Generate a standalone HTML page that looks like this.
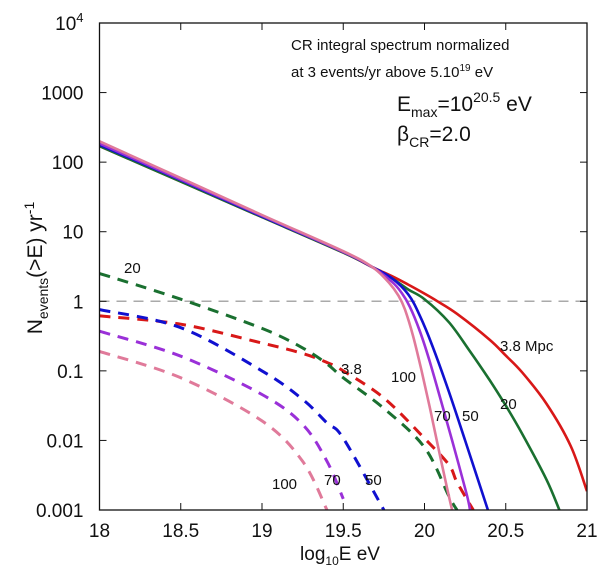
<!DOCTYPE html>
<html><head><meta charset="utf-8"><style>
body{margin:0;background:#fff;}
svg{display:block;font-family:"Liberation Sans",sans-serif;}
</style></head><body>
<svg id="chart" width="600" height="577">
<g id="grid"></g>
<g id="series"></g>
<g id="axes"></g>
<g id="labels" font-size="15" fill="#111"></g>
<g fill="#111">
<text x="291" y="50" font-size="15">CR integral spectrum normalized</text>
<text x="291" y="77" font-size="15">at 3 events/yr above 5.10<tspan font-size="10" dy="-6">19</tspan><tspan dy="6"> eV</tspan></text>
<text x="397" y="111" font-size="21">E<tspan font-size="14" dy="6">max</tspan><tspan dy="-6">=10</tspan><tspan font-size="14" dy="-9">20.5</tspan><tspan dy="9"> eV</tspan></text>
<text x="397" y="141" font-size="21">β<tspan font-size="14" dy="6">CR</tspan><tspan dy="-6">=2.0</tspan></text>
</g>
<text x="340" y="560" font-size="19" text-anchor="middle" fill="#111">log<tspan font-size="12" dy="5">10</tspan><tspan dy="-5">E eV</tspan></text>
<text transform="translate(42,268) rotate(-90)" font-size="21" text-anchor="middle" fill="#111">N<tspan font-size="14" dy="6">events</tspan><tspan dy="-6">(&gt;E) yr</tspan><tspan font-size="14" dy="-8">-1</tspan></text>
</svg>
<script>
const xTicks=[18,18.5,19,19.5,20,20.5,21];
const yTicks=[4,3,2,1,0,-1,-2,-3];
const yTickLabels=["10^4","1000","100","10","1","0.1","0.01","0.001"];
const colors=["#d81818","#1a7030","#1010d0","#9a30d8","#e07a9a"];
const names=["3.8","20","50","70","100"];
// solid curves: log10 E and log10 N
const solidRedX=[18,18.5,19,19.5,19.68,19.8,19.9,20,20.08,20.2,20.4,20.5,20.6,20.75,20.9,21];
const solidRedY=[2.23,1.72,1.21,0.70,0.49,0.36,0.24,0.11,0,-0.18,-0.55,-0.78,-1.02,-1.47,-2.08,-2.73];
const solidGreenX=[18,18.5,19,19.5,19.68,19.8,19.9,20,20.15,20.28,20.4,20.5,20.6,20.75,20.83];
const solidGreenY=[2.23,1.72,1.21,0.70,0.49,0.33,0.17,0.03,-0.3,-0.72,-1.13,-1.5,-1.9,-2.56,-3];
const solidBlueX=[18,18.5,19,19.5,19.68,19.8,19.9,19.97,20.05,20.15,20.25,20.39];
const solidBlueY=[2.25,1.74,1.22,0.71,0.49,0.33,0.1,-0.2,-0.65,-1.3,-2.0,-3];
const solidPurpleX=[18,18.5,19,19.5,19.68,19.8,19.86,19.91,19.97,20.03,20.1,20.17,20.26,20.28];
const solidPurpleY=[2.27,1.75,1.23,0.71,0.49,0.28,0.12,-0.08,-0.42,-0.85,-1.42,-2.0,-2.78,-3];
const solidPinkX=[18,18.5,19,19.5,19.68,19.78,19.84,19.88,19.93,19.98,20.03,20.08,20.14,20.17];
const solidPinkY=[2.3,1.77,1.24,0.72,0.49,0.27,0.08,-0.12,-0.5,-0.98,-1.5,-2.05,-2.7,-3];
// dashed curves
const dashX=[18,18.5,19,19.25,19.4,19.5,19.75,20,20.15,20.2,20.3];
const dashRed=[-0.21,-0.33,-0.6,-0.75,-0.88,-1.0,-1.39,-1.97,-2.35,-2.6,-3];
const dashGreen=[0.4,0.03,-0.39,-0.67,-0.9,-1.1,-1.54,-2.1,-2.8,-3,null];
const dashBlue=[-0.12,-0.38,-1.0,-1.41,-1.75,-1.97,-3,null,null,null,null];
const dashPurple=[-0.43,-0.79,-1.34,-1.77,-2.3,-2.84,null,null,null,null,null];
const dashPink=[-0.72,-1.1,-1.72,-2.3,-3,null,null,null,null,null,null];

const X0=99.5,X1=587,Y0=23,Y1=510;
const xs=v=>X0+(v-18)/3*(X1-X0);
const ys=v=>Y0+(4-v)/7*(Y1-Y0);
const NS="http://www.w3.org/2000/svg";
function mk(t,a,p){const e=document.createElementNS(NS,t);for(const k in a)e.setAttribute(k,a[k]);p.appendChild(e);return e;}
const G=id=>document.getElementById(id);
function path(xa,ya,dashed,color,name){
  const pts=[];
  for(let i=0;i<xa.length;i++){if(ya[i]==null)continue;pts.push([xs(xa[i]),ys(ya[i])]);}
  let d="M"+pts[0][0].toFixed(1)+","+pts[0][1].toFixed(1);
  for(let i=0;i<pts.length-1;i++){
    const p0=pts[Math.max(i-1,0)],p1=pts[i],p2=pts[i+1],p3=pts[Math.min(i+2,pts.length-1)];
    const c1=[p1[0]+(p2[0]-p0[0])/6,p1[1]+(p2[1]-p0[1])/6];
    const c2=[p2[0]-(p3[0]-p1[0])/6,p2[1]-(p3[1]-p1[1])/6];
    d+="C"+c1[0].toFixed(1)+","+c1[1].toFixed(1)+" "+c2[0].toFixed(1)+","+c2[1].toFixed(1)+" "+p2[0].toFixed(1)+","+p2[1].toFixed(1);
  }
  const p=mk("path",{d:d,fill:"none",stroke:color,"stroke-width":dashed?3:2.6,"stroke-dasharray":dashed?"11,8":"none","clip-path":"url(#clip)"},G("series"));
  
  
}
const defs=mk("defs",{},G("chart"));const cp=mk("clipPath",{id:"clip"},defs);mk("rect",{x:X0,y:Y0,width:X1-X0,height:Y1-Y0},cp);
const ref=mk("line",{x1:X0,x2:X1,y1:ys(0),y2:ys(0),stroke:"#aaa","stroke-width":1.5,"stroke-dasharray":"10,7"},G("grid"));


const dashes=[dashRed,dashGreen,dashBlue,dashPurple,dashPink];
dashes.forEach((a,i)=>path(dashX,a,true,colors[i],"dashed-"+names[i]+"-mpc"));
const solidXs=[solidRedX,solidGreenX,solidBlueX,solidPurpleX,solidPinkX];
const solidYs=[solidRedY,solidGreenY,solidBlueY,solidPurpleY,solidPinkY];
solidYs.forEach((a,i)=>path(solidXs[i],a,false,colors[i],"solid-"+names[i]+"-mpc"));
const fr=mk("rect",{x:X0,y:Y0,width:X1-X0,height:Y1-Y0,fill:"none",stroke:"#111","stroke-width":1.3},G("axes"));


xTicks.forEach(t=>{
  const x=xs(t);
  mk("line",{x1:x,x2:x,y1:Y1,y2:Y1-7,stroke:"#111"},G("axes"));
  mk("line",{x1:x,x2:x,y1:Y0,y2:Y0+7,stroke:"#111"},G("axes"));
  const tx=mk("text",{x:x,y:Y1+27,"font-size":19,"text-anchor":"middle",fill:"#111"},G("axes"));
  tx.textContent=String(t);
  
  
});
yTicks.forEach((t,i)=>{
  const y=ys(t);
  mk("line",{x1:X0,x2:X0+7,y1:y,y2:y,stroke:"#111"},G("axes"));
  mk("line",{x1:X1,x2:X1-7,y1:y,y2:y,stroke:"#111"},G("axes"));
  const tx=mk("text",{x:X0-16,y:y+7,"font-size":19,"text-anchor":"end",fill:"#111"},G("axes"));
  const lab=yTickLabels[i];
  if(lab.includes("^")){const [b,e]=lab.split("^");tx.textContent=b;const ts=mk("tspan",{"font-size":13,dy:-8},tx);ts.textContent=e;}
  else tx.textContent=lab;
  
  
});
const lbls=[["20",124,273],["3.8",341,374],["100",391,382],["70",434,421],["50",462,421],["3.8 Mpc",500,351],["20",500,409],["70",324,485],["50",365,485],["100",272,489]];
lbls.forEach(l=>{const t=mk("text",{x:l[1],y:l[2]},G("labels"));t.textContent=l[0];
  
  });
</script>
</body></html>
